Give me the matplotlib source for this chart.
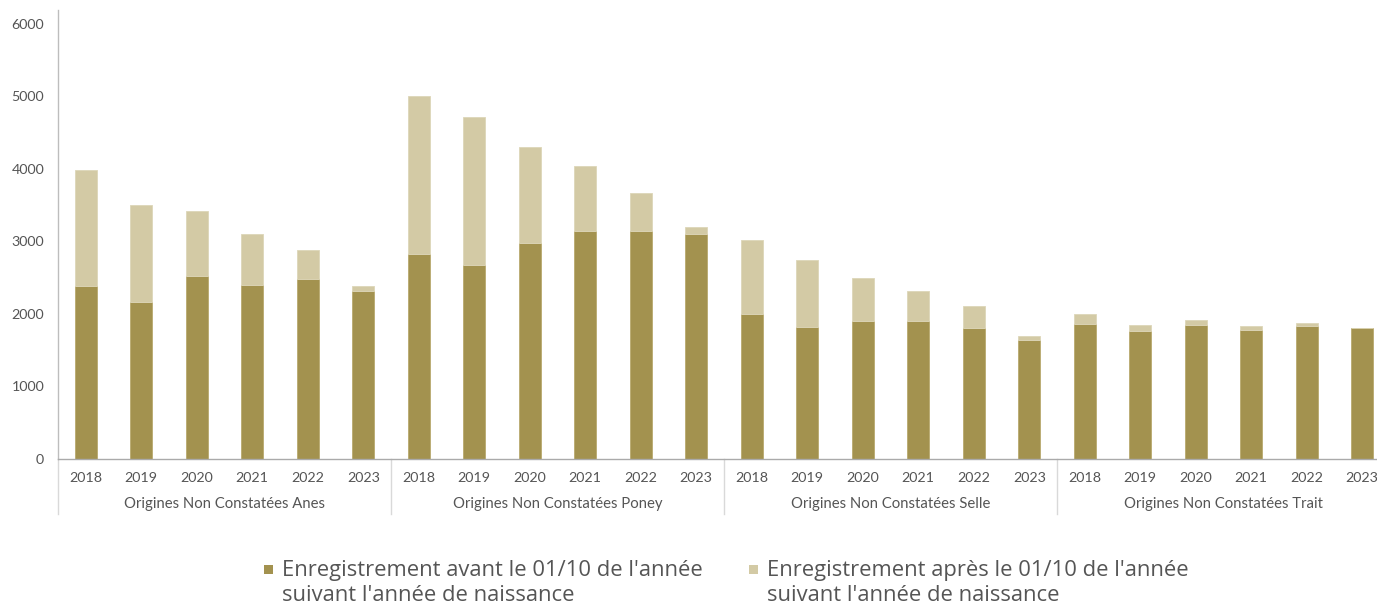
import matplotlib
matplotlib.use("Agg")
import matplotlib.pyplot as plt
from matplotlib.transforms import blended_transform_factory
from matplotlib.patches import Rectangle
import numpy as np

years = ["2018", "2019", "2020", "2021", "2022", "2023"]
groups = ["Origines Non Constatées Anes", "Origines Non Constatées Poney",
          "Origines Non Constatées Selle", "Origines Non Constatées Trait"]

avant = [2380, 2160, 2520, 2405, 2480, 2315,
         2825, 2670, 2975, 3140, 3140, 3105,
         2005, 1825, 1905, 1905, 1800, 1640,
         1865, 1760, 1850, 1785, 1840, 1800]
total = [3980, 3505, 3425, 3105, 2875, 2390,
         5010, 4720, 4295, 4035, 3665, 3205,
         3015, 2745, 2500, 2320, 2115, 1690,
         1995, 1850, 1915, 1840, 1875, 1805]
apres = [t - a for t, a in zip(total, avant)]

legend_labels = ["Enregistrement avant le 01/10 de l'année\nsuivant l'année de naissance",
                 "Enregistrement après le 01/10 de l'année\nsuivant l'année de naissance"]

c_dark = "#A3924F"
c_light = "#D3CAA5"
grey = "#555555"
font = "Lato"

W, H = 1377, 605
fig = plt.figure(figsize=(W / 100, H / 100), dpi=100)
ax = fig.add_axes([58 / W, (H - 459) / H, 1332 / W, 449 / H])

x = np.arange(len(avant))
ax.bar(x, avant, width=0.4, color=c_dark, edgecolor="#B9AA6E", linewidth=0.6)
ax.bar(x, apres, width=0.4, bottom=avant, color=c_light, edgecolor="#DDD6B8", linewidth=0.6)

ax.set_xlim(-0.5, len(avant) - 0.5)
ax.set_ylim(0, 6190)
ax.set_yticks([0, 1000, 2000, 3000, 4000, 5000, 6000])
ax.tick_params(axis="y", length=0, pad=10, labelsize=10.3, labelcolor=grey)
for lab in ax.get_yticklabels():
    lab.set_fontfamily(font)

ax.set_xticks(x)
ax.set_xticklabels(years * len(groups), fontsize=10.3, color=grey, fontfamily=font)
ax.tick_params(axis="x", length=0, pad=9)

for s in ["top", "right"]:
    ax.spines[s].set_visible(False)
ax.spines["left"].set_color("#BDBDBD")
ax.spines["bottom"].set_color("#AAAAAA")
ax.spines["left"].set_linewidth(1.0)
ax.spines["bottom"].set_linewidth(1.0)

tr = blended_transform_factory(ax.transData, ax.transAxes)
n = len(years)
for g in range(len(groups) + 1):
    xb = g * n - 0.5
    ax.plot([xb, xb], [0, -0.122], transform=tr, color="#D9D9D9", lw=1.0, clip_on=False)
for g, name in enumerate(groups):
    ax.text(g * n + (n - 1) / 2, -0.1, name, transform=tr, ha="center", va="center",
            fontsize=10.7, color=grey, fontfamily=font)

# legend
for i, (lab, col) in enumerate(zip(legend_labels, [c_dark, c_light])):
    mx = [264, 749][i]
    fig.add_artist(Rectangle((mx / W, (H - 574) / H), 9 / W, 9 / H, transform=fig.transFigure,
                             color=col, lw=0))
    fig.text((mx + 18) / W, (H - 560) / H, lab, ha="left", va="top", fontsize=15.8,
             color=grey, fontfamily="Open Sans", linespacing=1.28)

fig.savefig("out.png", dpi=100)
